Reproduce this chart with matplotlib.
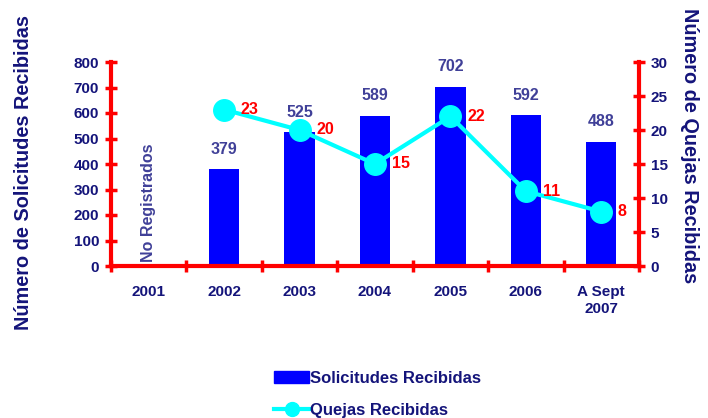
import matplotlib
matplotlib.use("Agg")
import matplotlib.pyplot as plt
from matplotlib.lines import Line2D
from matplotlib.patches import Patch
import numpy as np

plt.rcParams['font.family'] = ['Liberation Sans', 'DejaVu Sans']

categories = ["2001", "2002", "2003", "2004", "2005", "2006", "A Sept\n2007"]
solicitudes = [None, 379, 525, 589, 702, 592, 488]
quejas = [None, 23, 20, 15, 22, 11, 8]

NAVY = "#14147a"
RED = "#ff0000"
BLUE = "#0000ff"
CYAN = "#00ffff"
LABEL = "#404098"

fig = plt.figure(figsize=(7.08, 4.18), dpi=100)
ax = fig.add_axes([111/708, 1-266/418, 528/708, 204/418])
ax2 = ax.twinx()

x = np.arange(len(categories))
bx = [i for i, v in zip(x, solicitudes) if v is not None]
bv = [v for v in solicitudes if v is not None]
ax.bar(bx, bv, width=0.4, color=BLUE, zorder=2)
for xi, v in zip(bx, bv):
    ax.annotate(str(v), (xi, v), xytext=(0, 9), textcoords="offset points",
                ha="center", va="bottom", color=LABEL, fontsize=11.5, fontweight="bold")
ax.text(0, 14, "No Registrados", rotation=90, ha="center", va="bottom",
        color=LABEL, fontsize=11.5, fontweight="bold")

lx = [i for i, v in zip(x, quejas) if v is not None]
lv = [v for v in quejas if v is not None]
ax2.plot(lx, lv, color=CYAN, lw=3, marker="o", markersize=15.5, zorder=3)
for xi, v in zip(lx, lv):
    ax2.annotate(str(v), (xi, v), xytext=(12, 0), textcoords="offset points",
                 ha="left", va="center", color=RED, fontsize=11.5, fontweight="bold")

ax.set_xlim(-0.5, len(categories) - 0.5)
ax.set_ylim(0, 800)
ax2.set_ylim(0, 30)
ax.set_yticks(range(0, 801, 100))
ax2.set_yticks(range(0, 31, 5))
ax.set_xticks(x)
ax.set_xticklabels(categories)
ax.set_xticks(np.arange(-0.5, len(categories) - 0.4, 1), minor=True)
ax.tick_params(axis="x", which="major", length=0, pad=14, labelsize=11, labelcolor=NAVY)
ax.tick_params(axis="x", which="minor", length=8, width=2.5, color=RED, direction="inout")
for lab in ax.get_xticklabels():
    lab.set_fontweight("bold")
    lab.set_verticalalignment("top")
ax.tick_params(axis="y", length=9, width=2.5, color=RED, direction="inout",
               labelsize=11, labelcolor=NAVY, pad=4)
ax2.tick_params(axis="y", length=9, width=2.5, color=RED, direction="inout",
                labelsize=11, labelcolor=NAVY, pad=4)
for lab in ax.get_yticklabels() + ax2.get_yticklabels():
    lab.set_fontweight("bold")

for a in (ax, ax2):
    for s in a.spines.values():
        s.set_visible(False)
ax.spines["left"].set_visible(True)
ax.spines["bottom"].set_visible(True)
ax2.spines["right"].set_visible(True)
for s in (ax.spines["left"], ax.spines["bottom"], ax2.spines["right"]):
    s.set_color(RED)
    s.set_linewidth(3)

fig.text(24/708, 1-172/418, "Número de Solicitudes Recibidas", rotation=90,
         ha="center", va="center", color=NAVY, fontsize=14.3, fontweight="bold")
fig.text(690/708, 1-146/418, "Número de Quejas Recibidas", rotation=-90,
         ha="center", va="center", color=NAVY, fontsize=14.3, fontweight="bold")

handles = [Patch(facecolor=BLUE, edgecolor=BLUE),
           Line2D([0], [0], color=CYAN, lw=3, marker="o", markersize=10)]
labels = ["Solicitudes Recibidas", "Quejas Recibidas"]
leg = fig.legend(handles, labels, loc="upper left", bbox_to_anchor=(259/708, 1-356/418),
                 frameon=False, labelspacing=1.0, handlelength=2.1, handletextpad=0.05,
                 prop={"weight": "bold", "size": 12})
for t in leg.get_texts():
    t.set_color(NAVY)

fig.savefig("out.png", dpi=100)
